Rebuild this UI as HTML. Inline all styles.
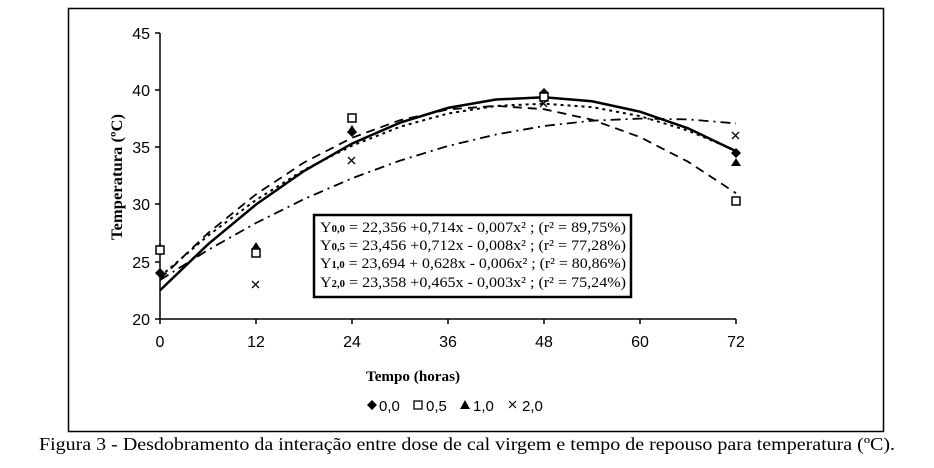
<!DOCTYPE html>
<html><head><meta charset="utf-8"><style>
body{margin:0;background:#fff;}
svg{display:block;}
text{font-family:"Liberation Serif",serif;fill:#000;}
text.s,.s text{font-family:"Liberation Sans Narrow","Liberation Sans",sans-serif;}
</style></head><body>
<svg width="934" height="468" viewBox="0 0 934 468">
<rect x="68.5" y="8.5" width="815" height="423" fill="none" stroke="#000" stroke-width="1.5"/>
<g stroke="#000" stroke-width="1.5" fill="none">
<line x1="160" y1="33" x2="160" y2="319"/>
<line x1="160" y1="319" x2="736" y2="319"/>
<line x1="155" y1="33" x2="160" y2="33"/>
<line x1="155" y1="90" x2="160" y2="90"/>
<line x1="155" y1="147" x2="160" y2="147"/>
<line x1="155" y1="204" x2="160" y2="204"/>
<line x1="155" y1="262" x2="160" y2="262"/>
<line x1="155" y1="319" x2="160" y2="319"/>
<line x1="160" y1="319" x2="160" y2="324"/>
<line x1="256" y1="319" x2="256" y2="324"/>
<line x1="352" y1="319" x2="352" y2="324"/>
<line x1="448" y1="319" x2="448" y2="324"/>
<line x1="544" y1="319" x2="544" y2="324"/>
<line x1="640" y1="319" x2="640" y2="324"/>
<line x1="736" y1="319" x2="736" y2="324"/>
</g>
<g class="s" font-size="16" text-anchor="end">
<text x="150" y="39">45</text><text x="150" y="96">40</text><text x="150" y="153">35</text>
<text x="150" y="210">30</text><text x="150" y="268">25</text><text x="150" y="325">20</text>
</g>
<g class="s" font-size="16" text-anchor="middle">
<text x="160" y="347">0</text><text x="256" y="347">12</text><text x="352" y="347">24</text>
<text x="448" y="347">36</text><text x="544" y="347">48</text><text x="640" y="347">60</text><text x="736" y="347">72</text>
</g>
<text x="413" y="381" font-size="15" font-weight="bold" text-anchor="middle" textLength="94" lengthAdjust="spacingAndGlyphs">Tempo (horas)</text>
<text transform="translate(122,177) rotate(-90)" font-size="16" font-weight="bold" text-anchor="middle" textLength="126" lengthAdjust="spacingAndGlyphs">Temperatura (ºC)</text>
<g fill="none" stroke="#000">
<polyline stroke-width="2.5" points="160,290.4 208,244.3 256,204.5 304,171 352,143.6 400,122.7 448,107.9 496,99.5 544,97.3 592,101.3 640,111.7 688,128.3 736,151.2"/>
<polyline stroke-width="1.8" stroke-dasharray="9,6" points="160,279 208,233.1 256,194.3 304,162.5 352,137.8 400,120.2 448,109.4 496,105.9 544,109.2 592,119.7 640,137.1 688,161.7 736,193.2"/>
<polyline stroke-width="2" stroke-dasharray="3,4" points="160,276.7 208,235.6 256,200 304,170 352,145.7 400,126.8 448,113.5 496,105.9 544,103.7 592,107.1 640,116.1 688,130.6 736,150.6"/>
<polyline stroke-width="1.8" stroke-dasharray="10,5,2,5" points="160,280.1 208,250 256,223 304,199.1 352,178.3 400,160.6 448,146 496,134.5 544,126 592,120.7 640,118.6 688,119.4 736,123.4"/>
</g>
<g fill="#000">
<path d="M160,268 l5,5 l-5,5 l-5,-5z"/>
<path d="M352,127 l5,5 l-5,5 l-5,-5z"/>
<path d="M544,88 l5,5 l-5,5 l-5,-5z"/>
<path d="M736,148 l5,5 l-5,5 l-5,-5z"/>
<path d="M256,242 l5,8 h-10z"/><path d="M160,243 l5,8 h-10z"/>
<path d="M352,125 l5,8 h-10z"/><path d="M544,89 l5,8 h-10z"/><path d="M736,158 l5,8 h-10z"/>
</g>
<g fill="#fff" stroke="#000" stroke-width="1.5">
<rect x="156" y="246" width="8" height="8"/><rect x="252" y="249" width="8" height="8"/>
<rect x="348" y="114" width="8" height="8"/><rect x="540" y="93" width="8" height="8"/>
<rect x="732" y="197" width="8" height="8"/>
</g>
<g stroke="#000" stroke-width="1.3">
<path d="M252,281 l7,7 M259,281 l-7,7"/><path d="M348,157 l7,7 M355,157 l-7,7"/>
<path d="M540,100 l7,7 M547,100 l-7,7"/><path d="M732,132 l7,7 M739,132 l-7,7"/>
</g>
<rect x="314" y="215" width="317" height="82" fill="#fff" stroke="#000" stroke-width="2.5"/>
<g font-size="15">
<text x="320" y="232" textLength="306" lengthAdjust="spacingAndGlyphs">Y<tspan font-size="10" font-weight="bold">0,0</tspan> = 22,356 +0,714x - 0,007x² ; (r² = 89,75%)</text>
<text x="320" y="250" textLength="306" lengthAdjust="spacingAndGlyphs">Y<tspan font-size="10" font-weight="bold">0,5</tspan> = 23,456 +0,712x - 0,008x² ; (r² = 77,28%)</text>
<text x="320" y="268" textLength="306" lengthAdjust="spacingAndGlyphs">Y<tspan font-size="10" font-weight="bold">1,0</tspan> = 23,694 + 0,628x - 0,006x² ; (r² = 80,86%)</text>
<text x="320" y="287" textLength="306" lengthAdjust="spacingAndGlyphs">Y<tspan font-size="10" font-weight="bold">2,0</tspan> = 23,358 +0,465x - 0,003x² ; (r² = 75,24%)</text>
</g>
<g fill="#000"><path d="M372,400 l5,5 l-5,5 l-5,-5z"/><path d="M465,400 l5,9 h-10z"/></g>
<rect x="414" y="401" width="8" height="8" fill="#fff" stroke="#000" stroke-width="1.3"/>
<path d="M509,401 l7,7 M516,401 l-7,7" stroke="#000" stroke-width="1.2"/>
<g class="s" font-size="15">
<text x="379" y="411">0,0</text><text x="426" y="411">0,5</text><text x="473" y="411">1,0</text><text x="522" y="411">2,0</text>
</g>
<text x="467" y="450" font-size="18" text-anchor="middle" textLength="856" lengthAdjust="spacingAndGlyphs">Figura 3 - Desdobramento da interação entre dose de cal virgem e tempo de repouso para temperatura (ºC).</text>
</svg>
</body></html>
